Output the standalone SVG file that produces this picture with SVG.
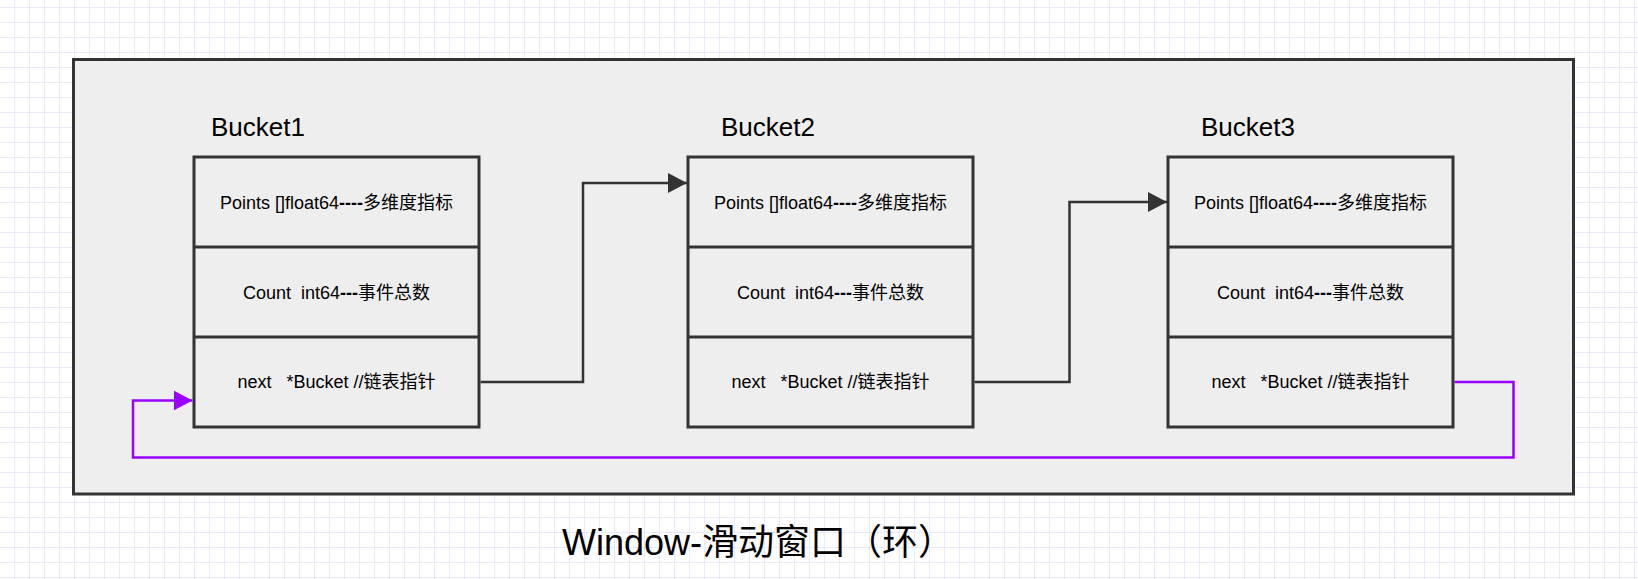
<svg xmlns="http://www.w3.org/2000/svg" width="1638" height="579" viewBox="0 0 1638 579">
  <defs>
    <pattern id="grid" patternUnits="userSpaceOnUse" x="14" y="7" width="15" height="15">
      <rect x="0" y="0" width="15" height="15" fill="#ffffff"/>
      <rect x="0" y="0" width="1" height="15" fill="#e9e9fb"/>
      <rect x="0" y="0" width="15" height="1" fill="#e9e9fb"/>
    </pattern>
    <marker id="arrDark" markerUnits="userSpaceOnUse" markerWidth="20" markerHeight="22" refX="19" refY="10" orient="auto" viewBox="0 0 20 20">
      <path d="M0,0 L19,10 L0,20 Z" fill="#333333"/>
    </marker>
    <marker id="arrPurple" markerUnits="userSpaceOnUse" markerWidth="20" markerHeight="22" refX="19" refY="10" orient="auto" viewBox="0 0 20 20">
      <path d="M0,0 L19,10 L0,20 Z" fill="#9900ff"/>
    </marker>
    <style>
      .frame { fill: #eeeeee; stroke: #333333; stroke-width: 3; }
      .box { fill: #eeeeee; stroke: #333333; stroke-width: 3; }
      .cell { font-family: 'Liberation Sans', 'Noto Sans CJK SC', sans-serif; font-size: 18px; fill: #000000; text-anchor: middle; white-space: pre; }
      .label { font-family: 'Liberation Sans', 'Noto Sans CJK SC', sans-serif; font-size: 26px; fill: #000000; }
      .title { font-family: 'Liberation Sans', 'Noto Sans CJK SC', sans-serif; font-size: 36px; fill: #000000; }
      .b { font-weight: bold; }
      .edge { fill: none; stroke: #333333; stroke-width: 2.5; }
      .loop { fill: none; stroke: #9900ff; stroke-width: 2.5; }
    </style>
  </defs>

  <rect x="0" y="0" width="1638" height="579" fill="url(#grid)"/>

  <g id="window">
    <rect class="frame" x="73.5" y="59.5" width="1500" height="434.5"/>
  </g>

  <g id="bucket1">
    <text class="label" x="211" y="136">Bucket1</text>
    <rect class="box" x="194" y="157" width="285" height="270"/>
    <line class="box" x1="194" y1="247" x2="479" y2="247"/>
    <line class="box" x1="194" y1="337" x2="479" y2="337"/>
    <text class="cell" x="336.5" y="208.5" xml:space="preserve">Points []float64<tspan class="b">----</tspan>多维度指标</text>
    <text class="cell" x="336.5" y="298.5" xml:space="preserve">Count  int64<tspan class="b">---</tspan>事件总数</text>
    <text class="cell" x="336.5" y="388" xml:space="preserve">next   *Bucket //链表指针</text>
  </g>

  <g id="bucket2">
    <text class="label" x="721" y="136">Bucket2</text>
    <rect class="box" x="688" y="157" width="285" height="270"/>
    <line class="box" x1="688" y1="247" x2="973" y2="247"/>
    <line class="box" x1="688" y1="337" x2="973" y2="337"/>
    <text class="cell" x="830.5" y="208.5" xml:space="preserve">Points []float64<tspan class="b">----</tspan>多维度指标</text>
    <text class="cell" x="830.5" y="298.5" xml:space="preserve">Count  int64<tspan class="b">---</tspan>事件总数</text>
    <text class="cell" x="830.5" y="388" xml:space="preserve">next   *Bucket //链表指针</text>
  </g>

  <g id="bucket3">
    <text class="label" x="1201" y="136">Bucket3</text>
    <rect class="box" x="1168" y="157" width="285" height="270"/>
    <line class="box" x1="1168" y1="247" x2="1453" y2="247"/>
    <line class="box" x1="1168" y1="337" x2="1453" y2="337"/>
    <text class="cell" x="1310.5" y="208.5" xml:space="preserve">Points []float64<tspan class="b">----</tspan>多维度指标</text>
    <text class="cell" x="1310.5" y="298.5" xml:space="preserve">Count  int64<tspan class="b">---</tspan>事件总数</text>
    <text class="cell" x="1310.5" y="388" xml:space="preserve">next   *Bucket //链表指针</text>
  </g>

  <g id="connectors">
    <path class="edge" d="M480.5,382 H583 V183 H687" marker-end="url(#arrDark)"/>
    <path class="edge" d="M974.5,382 H1069.5 V202 H1167" marker-end="url(#arrDark)"/>
    <path class="loop" d="M1454.5,382 H1513.5 V457.5 H133 V400.5 H192.5" marker-end="url(#arrPurple)"/>
  </g>

  <g id="title">
    <text class="title" x="562" y="555">Window-滑动窗口（环）</text>
  </g>
</svg>
